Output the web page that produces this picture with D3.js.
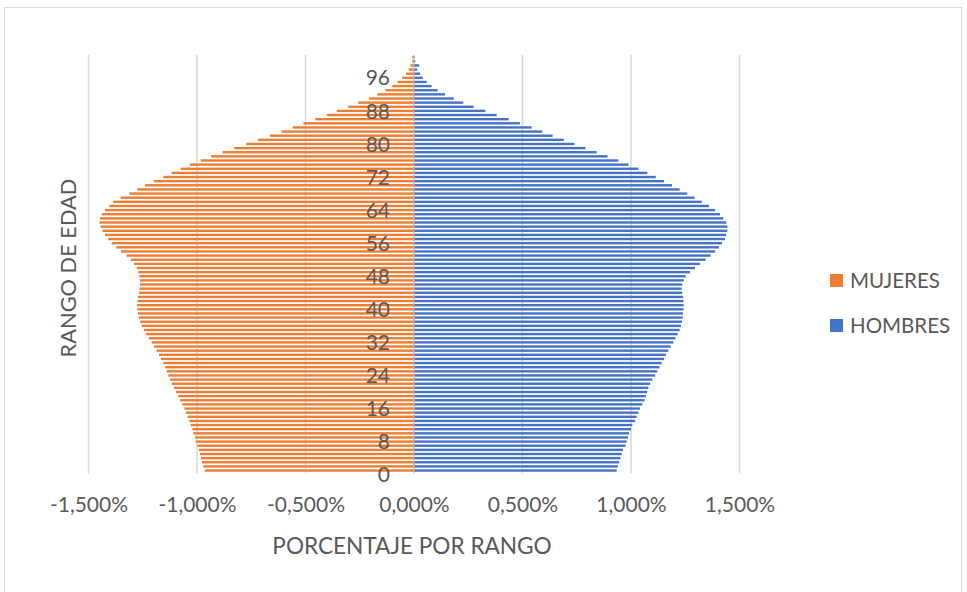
<!DOCTYPE html>
<html>
<head>
<meta charset="utf-8">
<script src="https://cdn.jsdelivr.net/npm/d3@7/dist/d3.min.js"></script>
<style>
  html, body { margin: 0; padding: 0; background: #ffffff; }
  svg { display: block; }
  text { font-family: Lato, "Open Sans", sans-serif; fill: #595959; }
</style>
</head>
<body>
<svg id="chart" width="967" height="592"></svg>
<script>
// Ages 0..100, one bar per age
const ages = d3.range(0, 101);

// Share of the population per age (%), women
const mujeres = [
  0.963, 0.971, 0.977, 0.982, 0.986, 0.992, 0.998, 1.005, 1.009, 1.017,
  1.021, 1.029, 1.035, 1.043, 1.051, 1.058, 1.068, 1.078, 1.086, 1.097,
  1.106, 1.117, 1.124, 1.132, 1.140, 1.147, 1.155, 1.166, 1.175, 1.186,
  1.198, 1.209, 1.222, 1.235, 1.245, 1.255, 1.262, 1.268, 1.272, 1.275,
  1.276, 1.275, 1.272, 1.268, 1.265, 1.263, 1.263, 1.265, 1.270, 1.278,
  1.290, 1.305, 1.325, 1.350, 1.372, 1.393, 1.409, 1.424, 1.435, 1.444,
  1.450, 1.447, 1.439, 1.424, 1.404, 1.386, 1.352, 1.312, 1.275, 1.240,
  1.198, 1.155, 1.117, 1.075, 1.032, 0.983, 0.935, 0.882, 0.828, 0.774,
  0.719, 0.664, 0.611, 0.559, 0.510, 0.455, 0.402, 0.356, 0.303, 0.257,
  0.207, 0.169, 0.131, 0.100, 0.075, 0.054, 0.037, 0.025, 0.017, 0.008,
  0.008
];

// Share of the population per age (%), men
const hombres = [
  0.934, 0.939, 0.945, 0.951, 0.957, 0.963, 0.975, 0.980, 0.986, 0.991,
  1.000, 1.006, 1.018, 1.026, 1.034, 1.041, 1.052, 1.063, 1.069, 1.074,
  1.080, 1.088, 1.098, 1.111, 1.121, 1.131, 1.141, 1.152, 1.161, 1.172,
  1.183, 1.195, 1.205, 1.215, 1.224, 1.230, 1.235, 1.238, 1.240, 1.242,
  1.243, 1.242, 1.240, 1.236, 1.234, 1.236, 1.243, 1.252, 1.272, 1.295,
  1.318, 1.344, 1.367, 1.387, 1.405, 1.419, 1.433, 1.439, 1.444, 1.444,
  1.439, 1.425, 1.410, 1.387, 1.359, 1.326, 1.293, 1.259, 1.224, 1.189,
  1.152, 1.114, 1.075, 1.034, 0.989, 0.942, 0.892, 0.842, 0.790, 0.739,
  0.690, 0.639, 0.591, 0.542, 0.488, 0.436, 0.381, 0.329, 0.275, 0.227,
  0.183, 0.143, 0.109, 0.081, 0.058, 0.040, 0.028, 0.015, 0.024, 0.006,
  0.003
];

// Axis ticks
const xTicks = [-1.5, -1.0, -0.5, 0, 0.5, 1.0, 1.5];
const xTickLabels = ["-1,500%", "-1,000%", "-0,500%", "0,000%", "0,500%", "1,000%", "1,500%"];
const yTicks = [0, 8, 16, 24, 32, 40, 48, 56, 64, 72, 80, 88, 96];

const seriesNames = ["MUJERES", "HOMBRES"];
const seriesColors = ["#ED7D31", "#4472C4"];

const svg = d3.select("#chart");

// Chart frame
svg.append("rect")
  .attr("x", 4.5).attr("y", 7.5)
  .attr("width", 957).attr("height", 620)
  .attr("fill", "none")
  .attr("stroke", "#d9d9d9")
  .attr("stroke-width", 1);

const plot = { left: 88.5, right: 739.5, top: 55.1, bottom: 472.6 };

const x = d3.scaleLinear().domain([-1.5, 1.5]).range([plot.left, plot.right]);
const y = d3.scaleBand()
  .domain(ages)
  .range([plot.bottom, plot.top])
  .paddingInner(0.42)
  .paddingOuter(0.21);

// Vertical gridlines
svg.append("g")
  .selectAll("line")
  .data(xTicks)
  .join("line")
  .attr("x1", d => x(d)).attr("x2", d => x(d))
  .attr("y1", plot.top).attr("y2", plot.bottom + 1)
  .attr("stroke", "#d9d9d9")
  .attr("stroke-width", 1.5);

// Women bars (left side)
svg.append("g")
  .selectAll("rect")
  .data(ages)
  .join("rect")
  .attr("x", a => x(-mujeres[a]))
  .attr("y", a => y(a))
  .attr("width", a => x(0) - x(-mujeres[a]))
  .attr("height", y.bandwidth())
  .attr("fill", seriesColors[0]);

// Men bars (right side)
svg.append("g")
  .selectAll("rect")
  .data(ages)
  .join("rect")
  .attr("x", x(0))
  .attr("y", a => y(a))
  .attr("width", a => x(hombres[a]) - x(0))
  .attr("height", y.bandwidth())
  .attr("fill", seriesColors[1]);

// Category axis line
svg.append("line")
  .attr("x1", x(0)).attr("x2", x(0))
  .attr("y1", plot.top).attr("y2", plot.bottom)
  .attr("stroke", "#bfbfbf")
  .attr("stroke-width", 1);

// X axis labels
const xAxis = d3.axisBottom(x)
  .tickValues(xTicks)
  .tickFormat((d, i) => xTickLabels[i])
  .tickSize(0)
  .tickPadding(17.5);
const gx = svg.append("g").attr("transform", "translate(0,480)").call(xAxis);
gx.select(".domain").remove();
gx.selectAll("text")
  .attr("font-family", "Lato, 'Open Sans', sans-serif")
  .attr("font-size", 21)
  .attr("fill", "#595959");

// Y axis labels (every eighth age)
const yAxis = d3.axisLeft(y)
  .tickValues(yTicks)
  .tickSize(0)
  .tickPadding(24);
const gy = svg.append("g").attr("transform", `translate(${x(0)},5)`).call(yAxis);
gy.select(".domain").remove();
gy.selectAll("text")
  .attr("font-family", "Lato, 'Open Sans', sans-serif")
  .attr("font-size", 21)
  .attr("fill", "#595959");

// Axis titles
svg.append("text")
  .attr("x", 412).attr("y", 554)
  .attr("text-anchor", "middle")
  .attr("font-size", 22.6)
  .text("PORCENTAJE POR RANGO");

svg.append("text")
  .attr("transform", "translate(76,268) rotate(-90)")
  .attr("text-anchor", "middle")
  .attr("font-size", 21.8)
  .text("RANGO DE EDAD");

// Legend
const legend = svg.append("g");
const legendY = [274, 319];
seriesNames.forEach((name, i) => {
  legend.append("rect")
    .attr("x", 830).attr("y", legendY[i])
    .attr("width", 13).attr("height", 13)
    .attr("fill", seriesColors[i]);
  legend.append("text")
    .attr("x", 850).attr("y", legendY[i] + 13.5)
    .attr("font-size", 20.5)
    .text(name);
});
</script>
</body>
</html>
